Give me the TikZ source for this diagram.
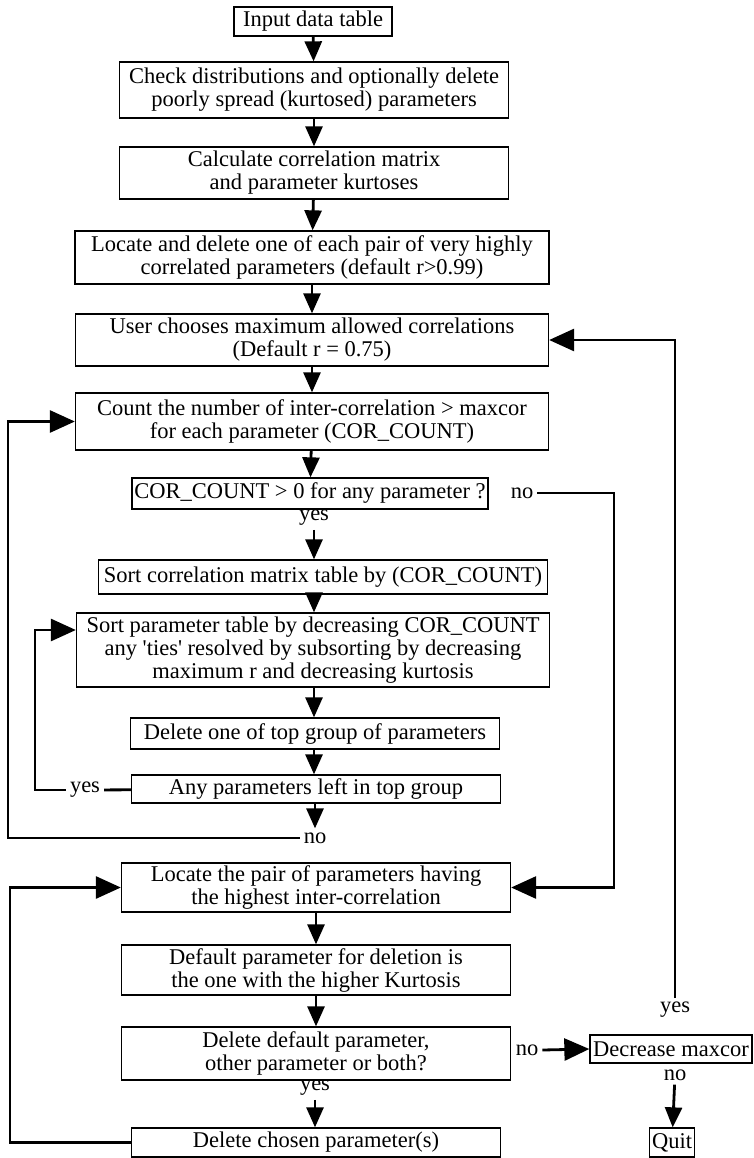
\documentclass[tikz,border=0pt]{standalone}
\usepackage{fontspec}
\setmainfont{Liberation Serif}
\usetikzlibrary{arrows.meta}

\begin{document}
\begin{tikzpicture}[x=1pt,y=-1pt,
    box/.style={draw, line width=1.3pt, align=center, inner sep=0pt,
                font=\fontsize{22.5}{23}\selectfont},
    lbl/.style={inner sep=4pt, font=\fontsize{22.5}{23}\selectfont},
    flow/.style={line width=2.8pt, -{Triangle[length=20pt,width=17pt]}},
    back/.style={line width=2.8pt, -{Triangle[length=25pt,width=22pt]}},
    link/.style={line width=2.8pt}]
    \useasboundingbox (0,0) rectangle (753,1158);

    % main column
    \node[box, minimum width=158, minimum height=29] (input) at (313,21.5) {Input data table};
    \node[box, minimum width=389, minimum height=56] (check) at (314,90)
        {Check distributions and optionally delete\\poorly spread (kurtosed) parameters};
    \node[box, minimum width=389, minimum height=52] (calc) at (314,173)
        {Calculate correlation matrix\\and parameter kurtoses};
    \node[box, minimum width=474, minimum height=53] (veryhigh) at (312,257.5)
        {Locate and delete one of each pair of very highly\\correlated parameters (default r>0.99)};
    \node[box, minimum width=473, minimum height=52] (user) at (312,340)
        {User chooses maximum allowed correlations\\(Default r = 0.75)};
    \node[box, minimum width=473, minimum height=57] (count) at (312,421.5)
        {Count the number of inter-correlation > maxcor\\for each parameter (COR\_COUNT)};
    \node[box, minimum width=356, minimum height=31] (corq) at (310,493.5)
        {COR\_COUNT > 0 for any parameter ?};
    \node[lbl] (yesA) at (314,518) {yes};
    \node[box, minimum width=449, minimum height=34] (sortcor) at (323,577)
        {Sort correlation matrix table by (COR\_COUNT)};
    \node[box, minimum width=473, minimum height=74] (sortpar) at (313,650)
        {Sort parameter table by decreasing COR\_COUNT\\any \textquotesingle ties\textquotesingle{} resolved by subsorting by decreasing\\maximum r and decreasing kurtosis};
    \node[box, minimum width=369, minimum height=31] (delone) at (315,733.5)
        {Delete one of top group of parameters};
    \node[box, minimum width=369, minimum height=28] (anyleft) at (316,789)
        {Any parameters left in top group};
    \node[lbl] (yesB) at (85,790) {yes};
    \node[lbl] (noA) at (315,838) {no};
    \node[lbl] (noB) at (522,493) {no};
    \node[box, minimum width=389, minimum height=49] (pair) at (316,887.5)
        {Locate the pair of parameters having\\the highest inter-correlation};
    \node[box, minimum width=389, minimum height=50] (default) at (316,970)
        {Default parameter for deletion is\\the one with the higher Kurtosis};
    \node[box, minimum width=389, minimum height=53] (delq) at (316,1053.5)
        {Delete default parameter,\\other parameter or both?};
    \node[lbl] (yesC) at (315,1088) {yes};
    \node[box, minimum width=369, minimum height=29] (chosen) at (316,1142.5)
        {Delete chosen parameter(s)};

    % right column
    \node[lbl] (noC) at (527,1050) {no};
    \node[box, minimum width=162, minimum height=28] (decr) at (671,1049) {Decrease maxcor};
    \node[lbl] (yesD) at (675,1010) {yes};
    \node[lbl] (noD) at (675,1075) {no};
    \node[box, minimum width=45, minimum height=29] (quit) at (672,1142.5) {Quit};

    \coordinate (outer) at (8,0);
    \coordinate (inner) at (35,0);
    \coordinate (lower) at (10,0);
    \coordinate (rightA) at (614,0);
    \coordinate (rightB) at (675,0);

    % straight arrows
    \draw[flow] (input) -- (check);
    \draw[flow] (check) -- (calc);
    \draw[flow] (calc) -- (veryhigh);
    \draw[flow] (veryhigh) -- (user);
    \draw[flow] (user) -- (count);
    \draw[flow] (count) -- (corq);
    \draw[flow] (yesA) -- (sortcor.north -| yesA);
    \draw[flow] (sortcor.south -| yesA) -- (sortpar.north -| yesA);
    \draw[flow] (sortpar.south -| yesA) -- (delone.north -| yesA);
    \draw[flow] (delone.south -| yesA) -- (anyleft.north -| yesA);
    \draw[flow] (anyleft.south -| noA) -- (noA);
    \draw[flow] (pair) -- (default);
    \draw[flow] (default) -- (delq);
    \draw[flow] (yesC) -- (chosen.north -| yesC);
    \draw[flow] (noD) -- (quit);

    % loops
    \draw[link] (anyleft) -- (yesB);
    \draw[back] (yesB.west) -- (yesB.west -| inner) |- ([yshift=20pt]sortpar.west);
    \draw[back] (noA.west) -- (noA.west -| outer) |- (count.west);
    \draw[back] (noB.east) -- (noB.east -| rightA) |- (pair.east);
    \draw[back] (chosen.west) -- (chosen.west -| lower) |- (pair.west);
    \draw[back] (noC.east) -- (decr.west);
    \draw[back] (yesD.north) -- (user.east -| rightB) -- (user.east);
\end{tikzpicture}
\end{document}
